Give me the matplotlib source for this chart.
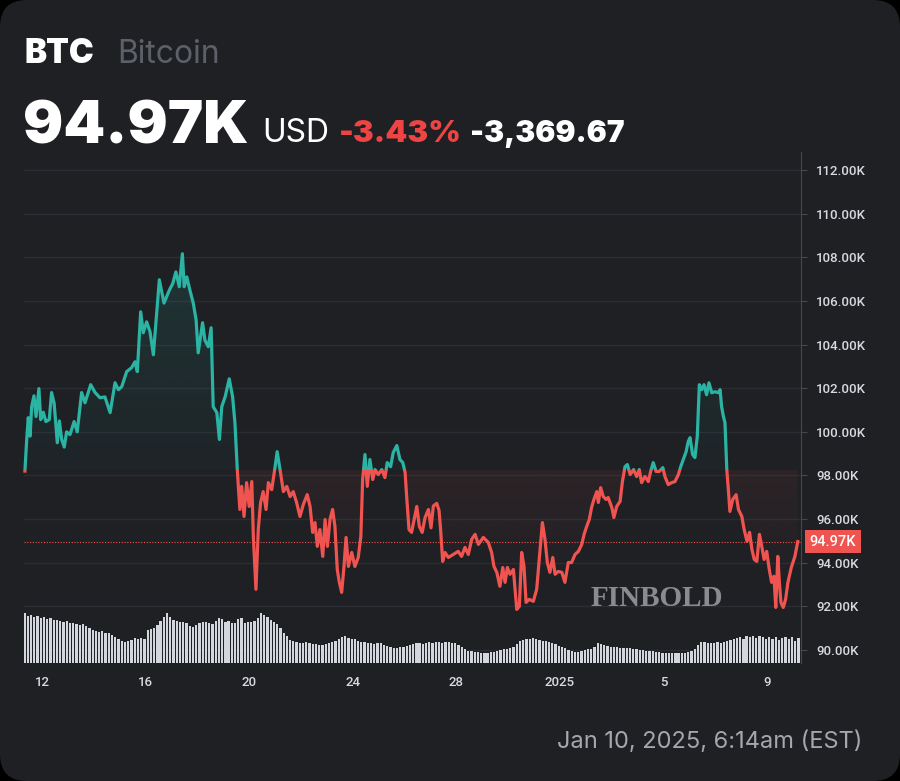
import matplotlib
matplotlib.use('Agg')
import matplotlib.pyplot as plt
import matplotlib.colors as mcolors
import matplotlib.transforms as mtransforms
import numpy as np
from matplotlib.patches import FancyBboxPatch, Rectangle
from matplotlib.path import Path

# time axis in days of December 2024 (32 = Jan 1 2025), price in thousands USD
days = [11.34, 11.41, 11.47, 11.54, 11.60, 11.69, 11.77, 11.88, 11.95, 12.05,
        12.15, 12.28, 12.37, 12.47, 12.59, 12.67, 12.76, 12.86, 12.95, 13.08,
        13.24, 13.36, 13.53, 13.66, 13.88, 14.05, 14.24, 14.43, 14.63, 14.82,
        14.95, 15.08, 15.27, 15.46, 15.59, 15.68, 15.81, 15.91, 16.04, 16.17,
        16.30, 16.53, 16.71, 16.92, 17.05, 17.17, 17.30, 17.42, 17.49, 17.59,
        17.71, 17.84, 17.95, 18.03, 18.20, 18.29, 18.42, 18.53, 18.61, 18.75,
        18.85, 18.94, 19.07, 19.23, 19.36, 19.45, 19.54, 19.58, 19.64, 19.71,
        19.80, 19.90, 20.00, 20.10, 20.16, 20.26, 20.35, 20.44, 20.54, 20.65,
        20.74, 20.87, 21.00, 21.08, 21.19, 21.32, 21.45, 21.58, 21.70, 21.83,
        21.96, 22.09, 22.24, 22.35, 22.45, 22.54, 22.63, 22.73, 22.84, 22.93,
        23.02, 23.12, 23.22, 23.31, 23.40, 23.48, 23.57, 23.66, 23.74, 23.83,
        23.96, 24.08, 24.21, 24.31, 24.38, 24.47, 24.56, 24.66, 24.77, 24.86,
        24.98, 25.12, 25.24, 25.33, 25.46, 25.56, 25.70, 25.82, 25.93, 26.02,
        26.08, 26.17, 26.27, 26.37, 26.47, 26.57, 26.68, 26.79, 26.92, 27.02,
        27.11, 27.24, 27.33, 27.39, 27.47, 27.56, 27.69, 27.88, 28.07, 28.20,
        28.33, 28.46, 28.59, 28.72, 28.85, 29.04, 29.23, 29.36, 29.45, 29.56,
        29.68, 29.79, 29.88, 29.97, 30.07, 30.20, 30.33, 30.43, 30.52, 30.61,
        30.69, 30.81, 30.97, 31.10, 31.20, 31.32, 31.42, 31.51, 31.61, 31.72,
        31.81, 31.93, 32.07, 32.19, 32.32, 32.45, 32.58, 32.71, 32.84, 32.93,
        33.03, 33.13, 33.22, 33.31, 33.42, 33.48, 33.57, 33.67, 33.78, 33.86,
        34.00, 34.08, 34.19, 34.32, 34.41, 34.51, 34.60, 34.71, 34.84, 34.96,
        35.06, 35.15, 35.28, 35.41, 35.50, 35.60, 35.71, 35.83, 35.97, 36.05,
        36.18, 36.31, 36.44, 36.57, 36.66, 36.76, 36.87, 36.95, 37.02, 37.12,
        37.21, 37.30, 37.38, 37.47, 37.56, 37.66, 37.75, 37.86, 37.99, 38.12,
        38.18, 38.24, 38.31, 38.37, 38.44, 38.50, 38.56, 38.67, 38.80, 38.89,
        39.02, 39.11, 39.22, 39.32, 39.41, 39.50, 39.60, 39.70, 39.79, 39.88,
        39.98, 40.08, 40.17, 40.26, 40.33, 40.41, 40.47, 40.53, 40.62, 40.71,
        40.80, 40.93, 41.07, 41.18]

price = [98.20, 99.65, 100.65, 99.80, 101.15, 101.65, 100.70, 101.98, 100.56, 100.90,
         100.47, 100.56, 101.80, 101.30, 99.50, 100.50, 99.65, 99.30, 100.00, 99.87,
         100.47, 100.00, 101.80, 101.33, 102.16, 101.80, 101.56, 101.60, 100.88, 102.25,
         101.93, 102.07, 102.76, 102.94, 103.21, 102.76, 105.50, 104.54, 105.04, 104.59,
         103.53, 106.97, 105.90, 106.50, 106.80, 107.33, 106.65, 108.16, 106.65, 107.10,
         106.50, 105.90, 105.13, 103.62, 105.00, 104.20, 103.90, 104.77, 101.15, 100.88,
         99.65, 101.15, 101.60, 102.43, 101.60, 100.40, 98.27, 97.50, 96.44, 97.50,
         96.12, 97.67, 96.58, 97.72, 95.20, 92.78, 95.52, 96.76, 97.26, 96.44,
         97.67, 97.35, 98.40, 99.09, 98.27, 97.26, 97.50, 97.03, 97.26, 96.76,
         96.12, 96.67, 97.12, 96.58, 95.39, 95.84, 94.75, 95.52, 94.29, 95.98,
         94.75, 95.98, 96.44, 95.66, 93.69, 93.10, 92.64, 93.83, 95.16, 93.83,
         94.47, 93.83, 94.24, 95.20, 97.81, 98.96, 97.50, 98.73, 97.81, 98.27,
         98.04, 98.27, 97.90, 98.59, 98.40, 99.05, 99.37, 98.73, 98.59, 98.13,
         97.03, 95.52, 95.39, 95.98, 96.58, 95.66, 95.39, 96.07, 96.44, 95.60,
         96.60, 96.72, 96.40, 95.52, 94.06, 94.47, 94.24, 94.38, 94.52, 94.29,
         94.70, 94.38, 95.07, 95.30, 94.84, 95.16, 94.93, 94.47, 93.83, 93.56,
         92.92, 93.78, 93.10, 93.78, 93.47, 93.69, 91.86, 92.00, 94.47, 93.83,
         92.18, 92.32, 92.23, 92.78, 94.15, 95.84, 95.07, 94.01, 93.56, 94.24,
         93.47, 93.60, 93.56, 93.10, 94.01, 94.01, 94.38, 94.52, 94.84, 95.30,
         95.66, 95.98, 96.53, 96.90, 97.26, 96.76, 97.44, 97.03, 96.90, 96.99,
         96.53, 96.07, 96.58, 96.81, 97.72, 98.40, 98.50, 98.04, 98.27, 97.95,
         98.27, 97.67, 97.95, 97.72, 98.18, 98.59, 98.18, 98.18, 98.36, 97.95,
         97.58, 97.67, 97.72, 98.04, 98.40, 98.73, 99.09, 99.55, 99.73, 98.96,
         98.82, 99.78, 102.16, 101.93, 102.16, 101.70, 102.25, 101.79, 101.84, 101.79,
         101.93, 101.15, 100.70, 100.42, 98.27, 97.35, 96.35, 96.90, 97.12, 96.44,
         96.12, 95.52, 94.98, 95.39, 94.61, 94.15, 94.06, 95.30, 94.75, 94.15,
         94.52, 93.69, 93.10, 93.38, 91.95, 94.29, 93.10, 92.18, 91.95, 92.32,
         93.10, 93.78, 94.29, 94.97]

# volume bars, one every 3 hours starting at day 11.33 (relative units)
vol_start = 11.33
vol_step = 0.125
volume = [50, 47, 48, 46, 47, 45, 46, 44, 45, 43,
          43, 42, 41, 42, 40, 40, 39, 38, 39, 37,
          35, 33, 32, 31, 32, 30, 30, 28, 26, 24,
          22, 21, 22, 23, 25, 24, 25, 24, 33, 34,
          35, 38, 42, 46, 50, 46, 43, 42, 41, 41,
          40, 37, 36, 38, 40, 41, 41, 40, 39, 42,
          45, 44, 41, 42, 40, 40, 44, 45, 40, 41,
          41, 42, 45, 50, 48, 46, 43, 41, 39, 35,
          30, 27, 23, 22, 21, 20, 20, 21, 20, 19,
          19, 18, 18, 19, 20, 21, 22, 24, 26, 27,
          25, 24, 24, 22, 21, 21, 20, 20, 19, 20,
          20, 18, 17, 16, 15, 15, 16, 16, 17, 18,
          19, 20, 20, 19, 20, 21, 20, 21, 21, 20,
          21, 21, 20, 20, 18, 16, 14, 12, 12, 11,
          11, 10, 10, 10, 11, 11, 12, 13, 14, 14,
          15, 16, 19, 22, 23, 24, 24, 25, 24, 23,
          22, 22, 21, 20, 19, 17, 16, 15, 13, 12,
          11, 11, 12, 13, 14, 14, 16, 20, 19, 18,
          17, 16, 16, 16, 15, 15, 15, 15, 14, 14,
          13, 13, 12, 12, 12, 11, 11, 10, 10, 10,
          10, 10, 10, 10, 10, 11, 12, 14, 18, 21,
          21, 20, 20, 20, 21, 20, 21, 22, 23, 24,
          25, 26, 24, 27, 26, 27, 25, 27, 26, 24,
          26, 24, 26, 23, 25, 26, 24, 26, 22, 25]

base_price = 98.25
last_price = 94.97
y_ticks = [90, 92, 94, 96, 98, 100, 102, 104, 106, 108, 110, 112]
y_labels = ['90.00K', '92.00K', '94.00K', '96.00K', '98.00K', '100.00K',
            '102.00K', '104.00K', '106.00K', '108.00K', '110.00K', '112.00K']
x_ticks = [12, 16, 20, 24, 28, 32, 36, 40]
x_labels = ['12', '16', '20', '24', '28', '2025', '5', '9']

BG = '#1e2024'
GREEN = '#2bb3a3'
RED = '#f05450'
GRID = '#2a2d33'
AXIS = '#44474e'
LABEL = '#d8dae0'

W, H = 900, 781
fig = plt.figure(figsize=(W / 100, H / 100), dpi=100)
fig.patch.set_facecolor('black')
card = FancyBboxPatch((0, 0), W / 100, H / 100, boxstyle='round,pad=0,rounding_size=0.27',
                      transform=fig.dpi_scale_trans, facecolor=BG, edgecolor='none')
fig.add_artist(card)


def px(x, y):
    return x / W, 1 - y / H


rect = [24 / W, 1 - 663 / H, 777 / W, 511 / H]
ax = fig.add_axes(rect, zorder=1)
ax.patch.set_alpha(0)
ax_vol = fig.add_axes(rect, zorder=2, sharex=ax)
ax_vol.patch.set_alpha(0)

x = np.array(days)
y = np.array(price)
xlim = (11.305, 41.305)
ylim = (89.404, 112.825)

# grid
for t in y_ticks:
    ax.axhline(t, color=GRID, lw=1, zorder=0)


def gradient_fill(mask, color, a_lo, a_hi, y_lo, y_hi):
    poly = ax.fill_between(x, y, base_price, where=mask, interpolate=True,
                           facecolor='none', edgecolor='none')
    clip = Path.make_compound_path(*poly.get_paths())
    img = np.zeros((256, 1, 4))
    img[..., :3] = mcolors.to_rgb(color)
    img[:, 0, 3] = np.linspace(a_lo, a_hi, 256)
    im = ax.imshow(img, aspect='auto', origin='lower', interpolation='bilinear',
                   extent=[xlim[0], xlim[1], y_lo, y_hi], zorder=1)
    im.set_clip_path(clip, ax.transData)


gradient_fill(y >= base_price, GREEN, 0.03, 0.15, base_price, 108.5)
gradient_fill(y <= base_price, RED, 0.0, 0.07, 92.0, base_price)

# two-coloured line around the base price
for color, lo, hi in ((GREEN, base_price, 200), (RED, 0, base_price)):
    ln, = ax.plot(x, y, color=color, lw=2.3, solid_joinstyle='round', zorder=3)
    clip_rect = Rectangle((0, lo), 100, hi - lo, transform=ax.transData)
    ln.set_clip_path(clip_rect)

ax.axhline(last_price, color=RED, lw=0.8, ls=(0, (1, 1.5)), zorder=2)

ax.set_xlim(*xlim)
ax.set_ylim(*ylim)
ax.yaxis.tick_right()
ax.set_yticks(y_ticks)
ax.set_yticklabels(y_labels)
ax.set_xticks(x_ticks)
ax.set_xticklabels(x_labels)
for s in ('top', 'left', 'bottom'):
    ax.spines[s].set_visible(False)
ax.spines['right'].set_color(AXIS)
ax.tick_params(axis='y', length=4, color=AXIS, labelcolor=LABEL, pad=7, labelsize=9.5)
ax.tick_params(axis='x', length=0, labelcolor=LABEL, pad=9, labelsize=9.5)
for lab in ax.get_xticklabels() + ax.get_yticklabels():
    lab.set_fontfamily('Roboto')
    lab.set_fontweight('medium')

# price tag
tr = mtransforms.blended_transform_factory(ax.transAxes, ax.transData)
ax.text(1.011, last_price, '94.97K', transform=tr, ha='left', va='center',
        color='white', fontsize=10.5, family='Roboto', fontweight='medium', zorder=5, clip_on=False,
        bbox=dict(boxstyle='square,pad=0.33', fc=RED, ec='none'))

# volume
vx = vol_start + vol_step * np.arange(len(volume))
ax_vol.bar(vx, volume, width=vol_step * 0.7, color='#d3d6dc', align='center', linewidth=0)
ax_vol.set_ylim(0, 511)
ax_vol.set_xlim(*xlim)
ax_vol.axis('off')

# header texts
fig.text(*px(25, 63), 'BTC', color='white', fontsize=24, fontweight='black', family='Inter', va='baseline')
fig.text(*px(117, 63), 'Bitcoin', color='#5d6068', fontsize=23, family='Inter', va='baseline')
fig.text(*px(23, 143), '94.97K', color='white', fontsize=43, fontweight='black', family='Inter', va='baseline')
fig.text(*px(262, 142), 'USD', color='white', fontsize=23, family='Inter', va='baseline')
fig.text(*px(339, 142), '-3.43%', color='#ef4444', fontsize=22.5, fontweight='black', family='Inter', va='baseline')
fig.text(*px(470, 142), '-3,369.67', color='white', fontsize=21.5, fontweight='black', family='Inter', va='baseline')

# watermark
fig.text(*px(591, 606), 'FINBOLD', color='#8a8b8e', fontsize=21, fontweight='bold',
         family='Liberation Serif', va='baseline', zorder=3)

fig.text(*px(862, 748), 'Jan 10, 2025, 6:14am (EST)', color='#a4a7ad', fontsize=17,
         family='Inter', ha='right', va='baseline')

fig.savefig('out.png', dpi=100, facecolor=fig.get_facecolor())
